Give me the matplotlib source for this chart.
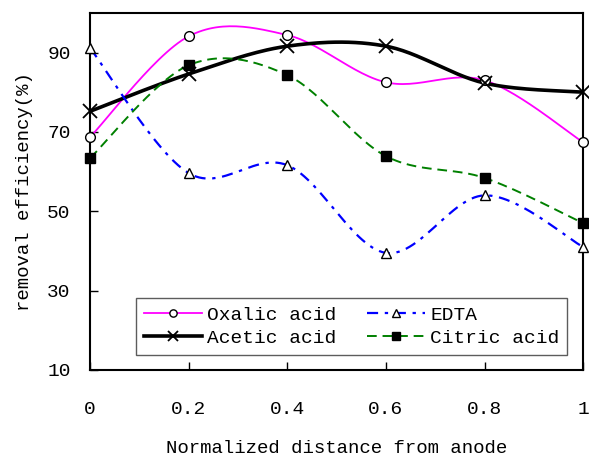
import numpy as np
import matplotlib
matplotlib.use('Agg')
from matplotlib import pyplot as plt

plt.rcParams['font.family'] = ['Liberation Mono', 'DejaVu Sans Mono']

###############################################################################
# Data
###############################################################################
distance = [0, 0.2, 0.4, 0.6, 0.8, 1.0]
oxalic = [68.7, 94.1, 94.4, 82.5, 83.0, 67.4]
acetic = [75.2, 84.6, 91.6, 91.6, 82.3, 80.0]
edta = [91.1, 59.6, 61.6, 39.5, 54.0, 41.0]
citric = [63.4, 86.8, 84.3, 63.9, 58.4, 47.0]

x_ticks = [0, 0.2, 0.4, 0.6, 0.8, 1]
x_tick_labels = ['0', '0.2', '0.4', '0.6', '0.8', '1']
y_ticks = [10, 30, 50, 70, 90]


def smooth(xs, ys, n=30):
    # Catmull-Rom curve through the points, like the "smoothed line" option
    p = np.column_stack([xs, ys]).astype(float)
    p = np.vstack([p[0], p, p[-1]])
    out = []
    t = np.linspace(0, 1, n)[:, None]
    for i in range(1, len(p) - 2):
        p0, p1, p2, p3 = p[i - 1], p[i], p[i + 1], p[i + 2]
        m1 = (p2 - p0) / 2
        m2 = (p3 - p1) / 2
        h00 = 2 * t**3 - 3 * t**2 + 1
        h10 = t**3 - 2 * t**2 + t
        h01 = -2 * t**3 + 3 * t**2
        h11 = t**3 - t**2
        out.append(h00 * p1 + h10 * m1 + h01 * p2 + h11 * m2)
    c = np.vstack(out)
    return c[:, 0], c[:, 1]


fig = plt.figure(figsize=(5.89, 4.59), dpi=100)
ax = fig.add_axes([0.153, 0.194, 0.837, 0.778])

series = [
    ('Oxalic acid', oxalic, dict(color='#ff00ff', lw=1.3, ls='-'),
     dict(marker='o', mfc='white', mec='black', ms=7)),
    ('Acetic acid', acetic, dict(color='black', lw=2.6, ls='-'),
     dict(marker='x', mfc='none', mec='black', ms=10, mew=1.3)),
    ('EDTA', edta, dict(color='#0000ff', lw=1.6, ls=(0, (5, 3, 1.5, 3))),
     dict(marker='^', mfc='white', mec='black', ms=7)),
    ('Citric acid', citric, dict(color='#008000', lw=1.4, ls=(0, (5, 3))),
     dict(marker='s', mfc='black', mec='black', ms=7)),
]

handles = []
for name, ys, lstyle, mstyle in series:
    sx, sy = smooth(distance, ys)
    ax.plot(sx, sy, zorder=2, **lstyle)
    ax.plot(distance, ys, ls='none', zorder=3, clip_on=False, **mstyle)
    # legend handle: line with smaller marker
    h, = ax.plot([], [], label=name, **lstyle,
                 **{**mstyle, 'ms': mstyle['ms'] * 0.75})
    handles.append(h)

ax.set_xlim(0, 1)
ax.set_ylim(10, 100)
ax.set_xticks(x_ticks)
ax.set_xticklabels(x_tick_labels)
ax.set_yticks(y_ticks)
ax.tick_params(axis='x', direction='in', length=6, width=1, pad=22, labelsize=14)
ax.tick_params(axis='y', direction='in', length=6, width=1, pad=14, labelsize=14)
for s in ax.spines.values():
    s.set_linewidth(1.5)

ax.set_xlabel('Normalized distance from anode', fontsize=13.7, labelpad=16)
ax.set_ylabel('removal efficiency(%)', fontsize=13.7, labelpad=10)

leg = ax.legend(handles=handles, ncol=2, loc='lower right',
                bbox_to_anchor=(0.968, 0.042), borderaxespad=0, fontsize=14,
                frameon=True, fancybox=False, edgecolor='#333333',
                handlelength=3.0, columnspacing=1.6, handletextpad=0.25,
                borderpad=0.4, labelspacing=0.3)
leg.get_frame().set_linewidth(1.0)

fig.savefig('out.png', dpi=100)
